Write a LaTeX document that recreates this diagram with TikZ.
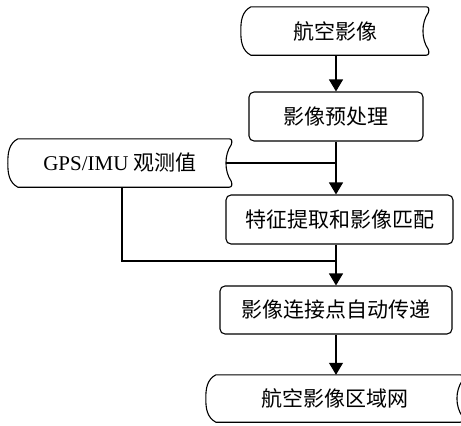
\documentclass[tikz,border=0pt]{standalone}
\usepackage{fontspec}
\setmainfont{Liberation Serif}
\newfontfamily\cjk{Noto Sans CJK SC}
\usetikzlibrary{arrows.meta,calc}

\tikzset{
  boxline/.style={draw=black, line width=1.1pt},
  label/.style={inner sep=0pt, font=\fontsize{21}{25}\selectfont},
  procbox/.style={label, boxline, rounded corners=5pt},
  storebox/.style={label, draw=none},
  link/.style={draw=black, line width=1.1pt},
  arr/.style={link, -{Triangle[width=14pt,length=12pt]}},
}

% stored-data outline: convex left side, concave right side
\newcommand\storedoutline[1]{%
  \draw[boxline]
    ([xshift=10pt]#1.north west) -- ([xshift=-3pt]#1.north east)
    .. controls (#1.north east) and ([yshift=-3pt]#1.north east) ..
    ([xshift=-1pt,yshift=-6pt]#1.north east)
    .. controls ([xshift=-8pt,yshift=-16pt]#1.north east) and ([xshift=-8pt,yshift=16pt]#1.south east) ..
    ([xshift=-1pt,yshift=6pt]#1.south east)
    .. controls ([yshift=3pt]#1.south east) and (#1.south east) ..
    ([xshift=-3pt]#1.south east)
    -- ([xshift=10pt]#1.south west)
    .. controls ([xshift=1pt,yshift=5pt]#1.south west) and ([yshift=14pt]#1.south west) ..
    (#1.west)
    .. controls ([yshift=-14pt]#1.north west) and ([xshift=1pt,yshift=-5pt]#1.north west) ..
    cycle;}

\begin{document}
\begin{tikzpicture}[x=1pt, y=-1pt]
  \useasboundingbox (0,0) rectangle (461,426);

  \coordinate (spine) at (336,0);
  \coordinate (merge) at (336,261);

  \node[storebox, minimum width=188pt, minimum height=48pt] (raw) at (335,31) {\cjk 航空影像};
  \node[procbox, minimum width=174pt, minimum height=49pt] (prep) at (336,116.5) {\cjk 影像预处理};
  \node[storebox, minimum width=224pt, minimum height=48pt] (gps) at (120,163) {GPS/IMU {\cjk 观测值}};
  \node[procbox, minimum width=227pt, minimum height=49pt] (match) at (339.5,219.5) {\cjk 特征提取和影像匹配};
  \node[procbox, minimum width=232pt, minimum height=48pt] (tie) at (336,310) {\cjk 影像连接点自动传递};
  \node[storebox, minimum width=257pt, minimum height=47pt] (net) at (334.5,398.5) {\cjk 航空影像区域网};

  \storedoutline{raw}
  \storedoutline{gps}
  \storedoutline{net}

  \draw[arr] (raw.south -| spine) -- (prep.north -| spine);
  \draw[arr] (prep.south -| spine) -- (match.north -| spine);
  \draw[link] ([xshift=-6pt]gps.east) -- (gps.east -| spine);
  \draw[link] ([xshift=2pt]gps.south) |- (merge);
  \draw[arr] (match.south -| spine) -- (tie.north -| spine);
  \draw[arr] (tie.south -| spine) -- (net.north -| spine);
\end{tikzpicture}
\end{document}
